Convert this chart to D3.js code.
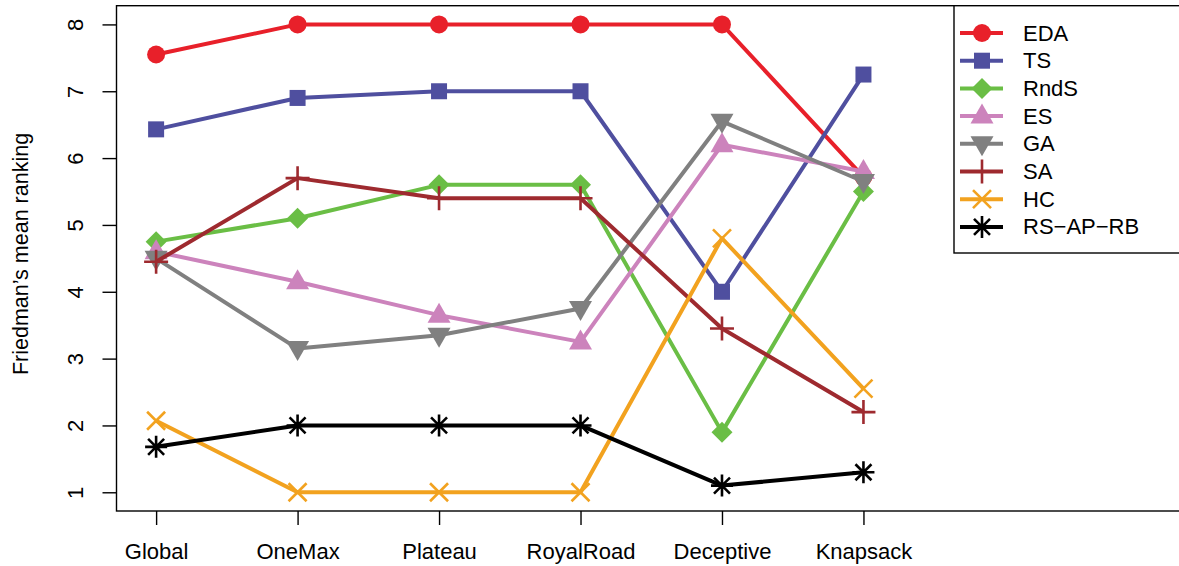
<!DOCTYPE html>
<html>
<head>
<meta charset="utf-8">
<script src="https://cdn.jsdelivr.net/npm/d3@7"></script>
<style>
  body { margin: 0; background: #fff; }
  svg { display: block; font-family: "Liberation Sans", Arial, sans-serif; }
</style>
</head>
<body>
<svg id="chart" width="1179" height="566"></svg>
<script>
// problems on the x axis
const categories = ["Global", "OneMax", "Plateau", "RoyalRoad", "Deceptive", "Knapsack"];

// Friedman's mean ranking per algorithm
const EDA    = [7.55, 8, 8, 8, 8, 5.72];
const TS     = [6.43, 6.9, 7, 7, 4.0, 7.25];
const RndS   = [4.75, 5.1, 5.6, 5.6, 1.9, 5.5];
const ES     = [4.6, 4.15, 3.65, 3.25, 6.2, 5.8];
const GA     = [4.5, 3.15, 3.35, 3.75, 6.55, 5.65];
const SA     = [4.45, 5.7, 5.4, 5.4, 3.45, 2.2];
const HC     = [2.07, 1, 1, 1, 4.8, 2.55];
const RSAPRB = [1.68, 2, 2, 2, 1.1, 1.3];

const yTicks = [1, 2, 3, 4, 5, 6, 7, 8];

const series = [
    {name: "EDA", values: EDA, color: "#e8202a", pch: "circle"},
    {name: "TS", values: TS, color: "#4f4f9f", pch: "square"},
    {name: "RndS", values: RndS, color: "#6abe45", pch: "diamond"},
    {name: "ES", values: ES, color: "#cc83bc", pch: "triangleUp"},
    {name: "GA", values: GA, color: "#808080", pch: "triangleDown"},
    {name: "SA", values: SA, color: "#9e2a2f", pch: "plus"},
    {name: "HC", values: HC, color: "#f2a21f", pch: "cross"},
    {name: "RS\u2212AP\u2212RB", values: RSAPRB, color: "#000000", pch: "star"}
];

let svg = d3.select("#chart");

// R style: data range 1..8 on both axes, extended by 4%
let x = d3.scaleLinear().domain([0.72, 8.28]).range([116.5, 1186]);
let y = d3.scaleLinear().domain([0.72, 8.28]).range([511, 5.7]);

// marker drawing, mimicking R pch symbols
function drawMarker(g, type, cx, cy, color) {
    let m = g.append("g").attr("transform", "translate(" + cx + "," + cy + ")");
    if (type === "circle") {
        m.append("circle").attr("r", 9).attr("fill", color);
    } else if (type === "square") {
        m.append("rect").attr("x", -8).attr("y", -8).attr("width", 16).attr("height", 16).attr("fill", color);
    } else if (type === "diamond") {
        m.append("path").attr("d", "M0,-10.5L10.5,0L0,10.5L-10.5,0Z").attr("fill", color);
    } else if (type === "triangleUp") {
        m.append("path").attr("d", "M0,-12.5L11.5,7.5L-11.5,7.5Z").attr("fill", color);
    } else if (type === "triangleDown") {
        m.append("path").attr("d", "M0,12.5L11.5,-7.5L-11.5,-7.5Z").attr("fill", color);
    } else if (type === "plus") {
        m.append("path").attr("d", "M-12,0H12M0,-12V12")
            .attr("stroke", color).attr("stroke-width", 2.6).attr("fill", "none");
    } else if (type === "cross") {
        m.append("path").attr("d", "M-9,-9L9,9M-9,9L9,-9")
            .attr("stroke", color).attr("stroke-width", 2.6).attr("fill", "none");
    } else if (type === "star") {
        m.append("path").attr("d", "M-11,0H11M0,-11V11M-8,-8L8,8M-8,8L8,-8")
            .attr("stroke", color).attr("stroke-width", 2.6).attr("fill", "none");
    }
}

let line = d3.line()
    .x((d, i) => x(i + 1))
    .y(d => y(d));

let plot = svg.append("g");

series.forEach(s => {
    plot.append("path")
        .datum(s.values)
        .attr("d", line)
        .attr("fill", "none")
        .attr("stroke", s.color)
        .attr("stroke-width", 4)
        .attr("stroke-linejoin", "round");
    s.values.forEach((v, i) => drawMarker(plot, s.pch, x(i + 1), y(v), s.color));
});

// plot box
svg.append("rect")
    .attr("x", x(0.72)).attr("y", y(8.28))
    .attr("width", x(8.28) - x(0.72)).attr("height", y(0.72) - y(8.28))
    .attr("fill", "none").attr("stroke", "#000").attr("stroke-width", 1.4);

// axes
let yAxis = svg.append("g")
    .attr("transform", "translate(" + x(0.72) + ",0)")
    .call(d3.axisLeft(y).tickValues(yTicks).tickSize(14).tickSizeOuter(0).tickPadding(0));
yAxis.select(".domain").remove();
yAxis.selectAll(".tick line").attr("stroke-width", 1.4);
yAxis.selectAll(".tick text")
    .attr("x", 0).attr("dy", null)
    .attr("transform", "translate(-41.5,0) rotate(-90)")
    .attr("text-anchor", "middle")
    .attr("dominant-baseline", "central")
    .style("font-size", "22px")
    .style("font-family", "'Liberation Sans', Arial, sans-serif")
    .attr("fill", "#000");

let xAxis = svg.append("g")
    .attr("transform", "translate(0," + y(0.72) + ")")
    .call(d3.axisBottom(x).tickValues(d3.range(1, categories.length + 1))
        .tickFormat(i => categories[i - 1]).tickSize(14).tickSizeOuter(0));
xAxis.select(".domain").remove();
xAxis.selectAll(".tick line").attr("stroke-width", 1.4);
xAxis.selectAll(".tick text")
    .attr("y", 48).attr("dy", null)
    .style("font-size", "22px")
    .style("font-family", "'Liberation Sans', Arial, sans-serif")
    .attr("fill", "#000");

// y axis title
svg.append("text")
    .attr("transform", "translate(21,254) rotate(-90)")
    .attr("text-anchor", "middle")
    .attr("dominant-baseline", "central")
    .style("font-size", "21.5px")
    .text("Friedman\u2019s mean ranking");

// legend
let legend = svg.append("g");
legend.append("rect")
    .attr("x", 954).attr("y", y(8.28))
    .attr("width", 260).attr("height", 253 - y(8.28))
    .attr("fill", "#fff").attr("stroke", "#000").attr("stroke-width", 1.4);

series.forEach((s, i) => {
    let ly = 33 + i * 27.7;
    legend.append("line")
        .attr("x1", 960).attr("x2", 1003).attr("y1", ly).attr("y2", ly)
        .attr("stroke", s.color).attr("stroke-width", 4);
    drawMarker(legend, s.pch, 982, ly, s.color);
    legend.append("text")
        .attr("x", 1023).attr("y", ly)
        .attr("dominant-baseline", "central")
        .style("font-size", "22px")
        .text(s.name);
});
</script>
</body>
</html>
